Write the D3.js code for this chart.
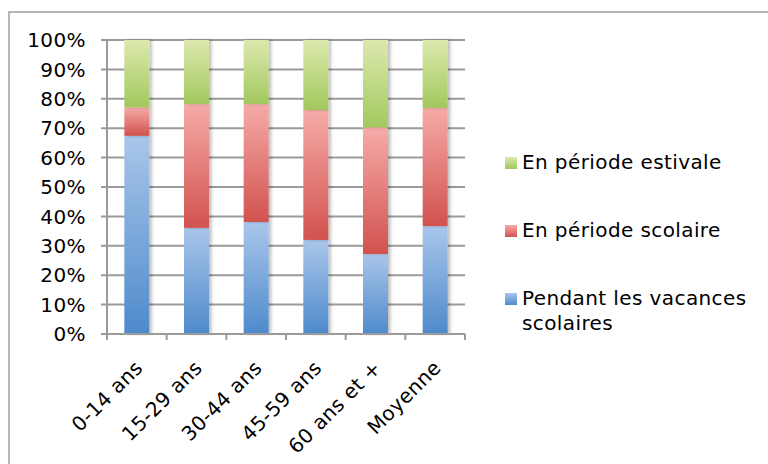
<!DOCTYPE html>
<html><head><meta charset="utf-8">
<script src="https://cdn.jsdelivr.net/npm/d3@7/dist/d3.min.js"></script>
<style>body{margin:0;background:#fff}svg{display:block}</style>
</head><body><svg id="c" width="768" height="464"></svg>
<script>
const categories = ["0-14 ans","15-29 ans","30-44 ans","45-59 ans","60 ans et +","Moyenne"];
const vacances = [67.4, 36.1, 38.1, 32.0, 27.2, 36.7];
const scolaire = [9.7, 42.1, 40.1, 44.2, 43.1, 40.2];
const estivale = [22.9, 21.8, 21.8, 23.8, 29.7, 23.1];
const seriesNames = ["Pendant les vacances scolaires","En période scolaire","En période estivale"];
const tickValues = [0,10,20,30,40,50,60,70,80,90,100];

(function(){
const svg = d3.select("#c");
const font = "'DejaVu Sans', Verdana, sans-serif";
const fs = 20, ls = 0.4;
const pL = 107, pR = 465, pT = 40, pB = 334;

svg.append("rect").attr("x",9).attr("y",12).attr("width",800).attr("height",500)
  .attr("fill","#fff").attr("stroke","#a6a6a6").attr("stroke-width",1.6);

const defs = svg.append("defs");
const grads = [["gBlue","#a9c6ea","#4e8acb"],["gRed","#f6aba8","#d1524e"],["gGreen","#dce9ae","#a2c85d"]];
grads.forEach(([id,a,b])=>{
  const g = defs.append("linearGradient").attr("id",id).attr("x1",0).attr("y1",0).attr("x2",0).attr("y2",1);
  g.append("stop").attr("offset","0%").attr("stop-color",a);
  g.append("stop").attr("offset","100%").attr("stop-color",b);
});
const f = defs.append("filter").attr("id","sh").attr("x","-20%").attr("y","-5%").attr("width","160%").attr("height","110%");
f.append("feDropShadow").attr("dx",2.5).attr("dy",0).attr("stdDeviation",1.5).attr("flood-color","#000").attr("flood-opacity",0.25);

const x = d3.scaleBand().domain(categories).range([pL,pR]).padding(0);
const y = d3.scaleLinear().domain([0,100]).range([pB,pT]);

svg.append("g").selectAll("line").data(tickValues).join("line")
  .attr("x1",pL-6).attr("x2",pR).attr("y1",d=>y(d)).attr("y2",d=>y(d))
  .attr("stroke","#9a9a9a").attr("stroke-width",2);
svg.append("line").attr("x1",pL).attr("x2",pL).attr("y1",pT).attr("y2",pB+6)
  .attr("stroke","#9a9a9a").attr("stroke-width",2);
svg.append("g").selectAll("line").data(d3.range(categories.length+1)).join("line")
  .attr("x1",i=>pL+i*x.bandwidth()).attr("x2",i=>pL+i*x.bandwidth())
  .attr("y1",pB).attr("y2",pB+6).attr("stroke","#9a9a9a").attr("stroke-width",2);

svg.append("g").selectAll("text").data(tickValues).join("text")
  .attr("x",86).attr("y",d=>y(d)).attr("dy","0.36em").attr("text-anchor","end")
  .attr("font-family",font).attr("font-size",fs).attr("letter-spacing",ls).attr("fill","#000")
  .text(d=>d+"%");

const rows = categories.map((c,i)=>({cat:c, v:vacances[i], s:scolaire[i], e:estivale[i]}));
const stack = d3.stack().keys(["v","s","e"])(rows);
const fills = ["url(#gBlue)","url(#gRed)","url(#gGreen)"];
const bw = 25;
stack.forEach((layer,k)=>{
  svg.append("g").attr("filter","url(#sh)").selectAll("rect").data(layer).join("rect")
    .attr("x",d=>x(d.data.cat)+x.bandwidth()/2-bw/2).attr("width",bw)
    .attr("y",d=>y(d[1])).attr("height",d=>y(d[0])-y(d[1]))
    .attr("fill",fills[k]);
});
svg.append("line").attr("x1",pL-6).attr("x2",pR).attr("y1",pB).attr("y2",pB)
  .attr("stroke","#9a9a9a").attr("stroke-width",2);

svg.append("g").selectAll("text").data(categories).join("text")
  .attr("transform",d=>`translate(${x(d)+x.bandwidth()/2+7},${pB+35}) rotate(-45)`)
  .attr("text-anchor","end").attr("font-family",font).attr("font-size",fs).attr("letter-spacing",ls)
  .attr("fill","#000").text(d=>d);

const legend = [
  {fill:fills[2], lines:["En période estivale"], y:169},
  {fill:fills[1], lines:["En période scolaire"], y:237},
  {fill:fills[0], lines:["Pendant les vacances","scolaires"], y:305}
];
const lg = svg.append("g").selectAll("g").data(legend).join("g");
lg.append("rect").attr("x",505).attr("y",d=>d.y-12).attr("width",12).attr("height",12).attr("fill",d=>d.fill);
lg.append("text").attr("font-family",font).attr("font-size",fs).attr("letter-spacing",ls).attr("fill","#000")
  .selectAll("tspan").data(d=>d.lines.map((l,i)=>({l,i,y:d.y}))).join("tspan")
  .attr("x",522).attr("y",t=>t.y+t.i*25).text(t=>t.l);
})();
</script></body></html>
